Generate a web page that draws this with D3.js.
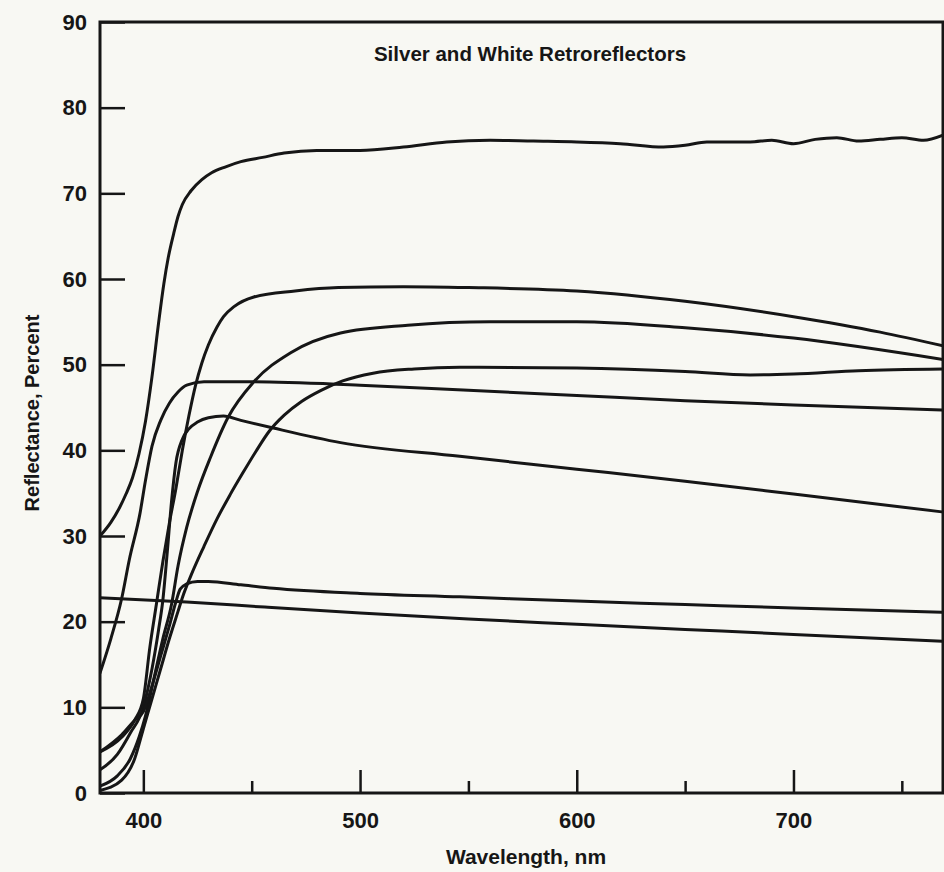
<!DOCTYPE html>
<html>
<head>
<meta charset="utf-8">
<script src="https://cdn.jsdelivr.net/npm/d3@7"></script>
<style>
  html, body { margin: 0; padding: 0; background: #f8f8f3; }
  svg { display: block; }
  text { font-family: "Liberation Sans", Arial, sans-serif; font-weight: bold; fill: #161616; }
</style>
</head>
<body>
<svg id="chart" width="944" height="872"></svg>
<script>
// Spectral reflectance of silver and white retroreflective sheeting, [wavelength nm, reflectance %]
const curveA = [[380,30],[385,31.6],[389,33.3],[392,34.9],[395,36.8],[398,39.6],[401,43.4],[404,48.6],[407,54.8],[409.5,59.5],[411.5,62.5],[414,65.3],[416,67.3],[418,68.7],[422,70.3],[427,71.6],[431.5,72.4],[438,73.1],[445,73.7],[455,74.2],[465,74.7],[480,75],[500,75],[520,75.4],[540,76],[560,76.2],[580,76.1],[600,76],[620,75.8],[640,75.4],[650,75.6],[660,76],[680,76],[690,76.2],[700,75.8],[710,76.3],[720,76.5],[730,76.1],[740,76.3],[750,76.5],[760,76.2],[769,76.8]];
const curveB = [[380,4.8],[390,6.5],[396,8.5],[400,11],[403,17],[406,22],[409,27],[412,31.5],[415,35.5],[418,40],[421,44],[424,47.5],[427,50.2],[430,52.3],[434,54.4],[437,55.6],[442,56.8],[451,57.9],[470,58.6],[490,59],[520,59.1],[550,59],[600,58.6],[650,57.4],[700,55.6],[740,53.8],[769,52.2]];
const curveC = [[380,0.8],[388,2],[394,4],[398,6.5],[401,9],[405,13.5],[409,18],[413,22],[416,26.5],[420,31],[425,35.2],[431,39.2],[439,43.8],[451,48],[468,51.4],[491,53.7],[522,54.6],[560,55],[600,55],[650,54.3],[700,53.1],[769,50.6]];
const curveD = [[380,14],[385,18],[390,22.7],[393.5,27.2],[398.5,32.7],[401,36.5],[404,40.5],[408,43.5],[412,45.5],[416,46.8],[420,47.6],[428,48],[450,48],[500,47.6],[550,47],[600,46.4],[650,45.8],[700,45.3],[769,44.7]];
const curveE = [[380,0.3],[390,1.5],[396,4],[400,7.5],[404,11],[408,14.5],[412,18],[416,21.2],[418,22.8],[422,25.4],[428,28.8],[434,32],[440,34.8],[446,37.4],[452,39.9],[458,42.2],[465,44.1],[473,45.7],[482,47],[492,48.1],[506,49],[525,49.5],[546,49.7],[600,49.6],[650,49.2],[680,48.8],[700,48.9],[730,49.3],[769,49.5]];
const curveF = [[380,2.7],[388,4.5],[394,7],[400,10],[404,14.5],[407,19],[409,22.5],[411,28],[413,34],[415,38.5],[418,41.3],[421,42.5],[425,43.3],[430,43.8],[437,44],[445,43.5],[460,42.6],[491,40.9],[546,39.3],[600,37.8],[650,36.4],[700,34.9],[769,32.8]];
const curveG = [[380,4.8],[390,6.8],[396,8.5],[400,9.5],[404,12.5],[408,16],[412,19.5],[415,22.3],[417,23.8],[420,24.4],[425,24.7],[430,24.7],[445,24.3],[460,23.9],[500,23.3],[546,22.9],[600,22.4],[650,22],[700,21.6],[769,21.1]];
const curveH = [[380,22.8],[420,22.3],[456,21.7],[500,21],[550,20.3],[600,19.7],[650,19.1],[700,18.5],[769,17.7]];

const seriesList = [curveA, curveB, curveC, curveD, curveE, curveF, curveG, curveH];

const xMajorTicks = [400, 500, 600, 700];
const xMinorTicks = [450, 550, 650, 750];
const yTicks = [0, 10, 20, 30, 40, 50, 60, 70, 80, 90];

const titleText = "Silver and White Retroreflectors";
const xTitle = "Wavelength, nm";
const yTitle = "Reflectance, Percent";

const svg = d3.select("#chart");
const plot = { left: 100, right: 943, top: 22, bottom: 793 };

const x = d3.scaleLinear().domain([380, 769]).range([plot.left, plot.right]);
const y = d3.scaleLinear().domain([0, 90]).range([plot.bottom, plot.top]);

svg.append("rect").attr("width", 944).attr("height", 872).attr("fill", "#f8f8f3");

svg.append("defs").append("clipPath").attr("id", "plotClip")
  .append("rect")
  .attr("x", plot.left).attr("y", plot.top)
  .attr("width", plot.right - plot.left).attr("height", plot.bottom - plot.top);

// Curves
const line = d3.line()
  .x(d => x(d[0]))
  .y(d => y(d[1]))
  .curve(d3.curveMonotoneX);

svg.append("g").attr("clip-path", "url(#plotClip)")
  .selectAll("path")
  .data(seriesList)
  .join("path")
  .attr("d", line)
  .attr("fill", "none")
  .attr("stroke", "#161616")
  .attr("stroke-width", 3)
  .attr("stroke-linejoin", "round")
  .attr("stroke-linecap", "round");

// Y axis with inward ticks
const yAxis = svg.append("g")
  .attr("transform", `translate(${plot.left},0)`)
  .call(d3.axisLeft(y).tickValues(yTicks).tickFormat(d3.format("d")).tickSize(-25).tickPadding(13));
yAxis.select(".domain").remove();
yAxis.selectAll(".tick line").attr("stroke", "#161616").attr("stroke-width", 2.5);
yAxis.selectAll(".tick text").attr("font-size", 22).attr("fill", "#161616")
  .style("font-family", "'Liberation Sans', Arial, sans-serif").style("font-weight", "bold");

// X axis: major ticks with labels, minor ticks without
const xAxis = svg.append("g")
  .attr("transform", `translate(0,${plot.bottom})`)
  .call(d3.axisBottom(x).tickValues(xMajorTicks).tickFormat(d3.format("d")).tickSize(-23).tickPadding(19));
xAxis.select(".domain").remove();
xAxis.selectAll(".tick line").attr("stroke", "#161616").attr("stroke-width", 2.5);
xAxis.selectAll(".tick text").attr("font-size", 22).attr("fill", "#161616")
  .style("font-family", "'Liberation Sans', Arial, sans-serif").style("font-weight", "bold");

const xMinor = svg.append("g")
  .attr("transform", `translate(0,${plot.bottom})`)
  .call(d3.axisBottom(x).tickValues(xMinorTicks).tickFormat("").tickSize(-12));
xMinor.select(".domain").remove();
xMinor.selectAll(".tick line").attr("stroke", "#161616").attr("stroke-width", 2.5);

// Frame
svg.append("rect")
  .attr("x", plot.left).attr("y", plot.top)
  .attr("width", plot.right - plot.left).attr("height", plot.bottom - plot.top)
  .attr("fill", "none").attr("stroke", "#161616").attr("stroke-width", 3);

// Titles
svg.append("text")
  .attr("x", 530).attr("y", 61)
  .attr("text-anchor", "middle")
  .attr("font-size", 20.5)
  .text(titleText);

svg.append("text")
  .attr("x", 526).attr("y", 864)
  .attr("text-anchor", "middle")
  .attr("font-size", 21)
  .text(xTitle);

svg.append("text")
  .attr("transform", "translate(39,413) rotate(-90)")
  .attr("text-anchor", "middle")
  .attr("font-size", 20)
  .text(yTitle);
</script>
</body>
</html>
